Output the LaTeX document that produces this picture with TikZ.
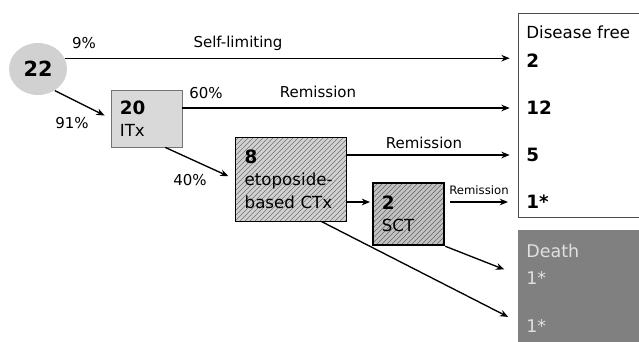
\documentclass[tikz,border=0pt]{standalone}
\usepackage{fontspec}
\setmainfont{DejaVu Sans}
\usetikzlibrary{shapes.geometric,patterns,arrows.meta}

\begin{document}
\begin{tikzpicture}[x=0.6pt,y=-0.6pt,
    arr/.style={line width=0.8pt,-{Stealth[length=5pt,width=4pt]}},
    lbl/.style={font=\fontsize{9}{10}\selectfont},
    num/.style={font=\fontsize{11}{12}\selectfont\bfseries,inner sep=0pt,anchor=west},
    dtxt/.style={font=\fontsize{10.5}{12}\selectfont,text=white!88!black,inner sep=0pt,anchor=west},
    stage/.style={rectangle,draw,align=left,inner xsep=5pt,font=\fontsize{10}{13.5}\selectfont}]
    \clip (0,0) rectangle (639,341);

    % start
    \node[ellipse,fill=black!18,minimum width=34.8pt,minimum height=31.2pt,inner sep=0pt,
          font=\fontsize{12.5}{14}\selectfont\bfseries] (c22) at (38,69) {22};

    % treatment stages
    \node[stage,fill=black!15,draw=black!55,line width=0.5pt,minimum width=42.6pt,minimum height=34.2pt,
          text width=32pt] (itx) at (146.5,118.5)
        {{\fontsize{11}{13.5}\selectfont\bfseries 20}\\ITx};
    \node[stage,preaction={fill=black!18},pattern=north east lines,pattern color=black!55,
          line width=0.6pt,minimum width=66.6pt,minimum height=50.4pt,text width=55pt] (ctx) at (290.5,179)
        {{\fontsize{11}{13.5}\selectfont\bfseries 8}\\etoposide-\\based CTx};
    \node[stage,preaction={fill=black!24},pattern=north east lines,pattern color=black!60,
          line width=1.5pt,minimum width=42.6pt,minimum height=37.2pt,text width=32pt] (sct) at (408.5,214)
        {{\fontsize{11}{13.5}\selectfont\bfseries 2}\\SCT};

    % outcomes
    \node[draw=black!70,line width=0.4pt,anchor=north west,minimum width=80pt,minimum height=122.4pt,
          inner sep=0pt] (dfbox) at (518,13) {};
    \node[anchor=west,inner sep=0pt,font=\fontsize{10}{12}\selectfont] (dftitle) at (526,32) {Disease free};
    \node[num] (n2) at (526,61) {2};
    \node[num] (n12) at (526,108) {12};
    \node[num] (n5) at (526,155) {5};
    \node[num] (n1) at (526,202) {1*};

    \node[fill=black!50,anchor=north west,minimum width=80pt,minimum height=70pt,inner sep=0pt]
        (dbox) at (518,230) {};
    \node[dtxt] (dtitle) at (526,251) {Death};
    \node[dtxt] (d1) at (526,278) {1*};
    \node[dtxt] (d2) at (526,326) {1*};

    % connectors
    \draw[arr,shorten >=5pt] (c22.22) -- (c22.22 -| dfbox.west);
    \draw[arr,shorten >=4pt] (c22.-52) -- (itx.west);
    \draw[arr,shorten >=5pt] (itx.east |- n12) -- (n12 -| dfbox.west);
    \draw[arr,shorten >=4pt] (itx.-57) -- (ctx.west);
    \draw[arr,shorten >=5pt] (ctx.east |- n5) -- (n5 -| dfbox.west);
    \draw[arr,shorten >=1pt] (ctx.east |- n1) -- (sct.west |- n1);
    \draw[arr,shorten <=3pt,shorten >=6pt] (sct.east |- n1) -- (n1 -| dfbox.west);
    \draw[arr,shorten >=14pt] (sct.south east) -- (d1.west);
    \draw[arr,shorten >=12pt] (ctx.-54) -- (d2.west);

    % labels
    \node[lbl] (l9) at (84,43) {9\%};
    \node[lbl] (lself) at (238,43) {Self-limiting};
    \node[lbl] (l91) at (72,123) {91\%};
    \node[lbl] (l60) at (206,93) {60\%};
    \node[lbl] (lrem1) at (318,92) {Remission};
    \node[lbl] (l40) at (190,180) {40\%};
    \node[lbl] (lrem2) at (424,143) {Remission};
    \node[font=\fontsize{7}{8}\selectfont] (lrem3) at (479,190) {Remission};
\end{tikzpicture}
\end{document}
